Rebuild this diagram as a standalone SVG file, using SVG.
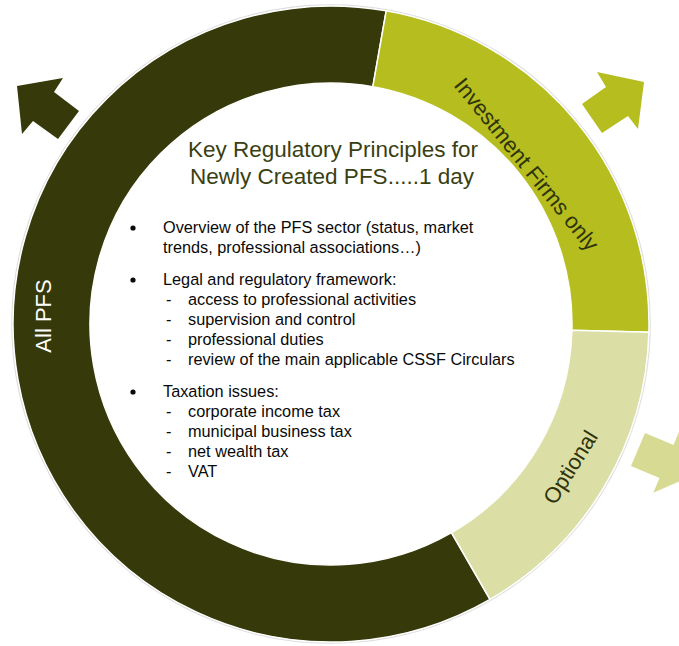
<svg xmlns="http://www.w3.org/2000/svg" width="679" height="646" viewBox="0 0 679 646">
  <style>
    .txt { font-family: "Liberation Sans", Arial, Helvetica, sans-serif; }
    .title { font-size: 22.5px; fill: #3a3f12; text-anchor: middle; }
    .body { font-size: 16.3px; fill: #0a0a0a; }
    .arc-label { font-size: 22px; text-anchor: middle; }
    .seg { stroke: #ffffff; stroke-width: 1.5; }
    .dark { fill: #363a0a; }
    .green { fill: #b5bd1f; }
    .light { fill: #dcdfa5; }
  </style>

  <rect width="679" height="646" fill="#ffffff"/>

  <!-- subtle outer shadow -->
  <circle cx="331" cy="324" r="319" fill="none" stroke="#cfcfcf" stroke-width="1.5" opacity="0.7"/>

  <g id="all-pfs">
    <path class="seg dark" d="M490,599.4 A318,318 0 1 1 386.2,10.8 L372.85,86.66 A241,241 0 1 0 451.5,532.7 Z"/>
    <text class="txt arc-label" fill="#ffffff" transform="translate(51,316) rotate(-90)" x="0" y="0">All PFS</text>
  </g>

  <g id="investment-firms-only">
    <path class="seg green" d="M386.2,10.8 A318,318 0 0 1 648.9,332.3 L571.9,330.3 A241,241 0 0 0 372.85,86.66 Z"/>
    <text class="txt arc-label" fill="#2f330b" transform="translate(527,164) rotate(51)" x="0" y="8">Investment Firms only</text>
  </g>

  <g id="optional">
    <path class="seg light" d="M648.9,332.3 A318,318 0 0 1 490,599.4 L451.5,532.7 A241,241 0 0 0 571.9,330.3 Z"/>
    <text class="txt arc-label" fill="#2f330b" transform="translate(570,467) rotate(-58)" x="0" y="8">Optional</text>
  </g>

  <g id="connectors">
    <polygon class="dark" points="17,86 63,78 54,92 79,111 58,139 33,121 22,134"/>
    <polygon class="green" points="597,72 644,82 638,129 628,116 602,133 582,104 606,87"/>
    <polygon fill="#d6da92" points="645,433 673.5,445 679.7,430 696,474 653.3,492.7 659.5,478 631,466"/>
  </g>

  <g id="center-content">
    <text class="txt title" x="333" y="157">Key Regulatory Principles for</text>
    <text class="txt title" x="332" y="184">Newly Created PFS.....1 day</text>

    <circle cx="133" cy="228" r="2.6" fill="#0a0a0a"/>
    <text class="txt body" x="163" y="233">Overview of the PFS sector (status, market</text>
    <text class="txt body" x="163" y="253">trends, professional associations…)</text>

    <circle cx="133" cy="280" r="2.6" fill="#0a0a0a"/>
    <text class="txt body" x="163" y="285">Legal and regulatory framework:</text>
    <text class="txt body" x="166" y="305">-</text>
    <text class="txt body" x="188" y="305">access to professional activities</text>
    <text class="txt body" x="166" y="325">-</text>
    <text class="txt body" x="188" y="325">supervision and control</text>
    <text class="txt body" x="166" y="345">-</text>
    <text class="txt body" x="188" y="345">professional duties</text>
    <text class="txt body" x="166" y="365">-</text>
    <text class="txt body" x="188" y="365">review of the main applicable CSSF Circulars</text>

    <circle cx="133" cy="392" r="2.6" fill="#0a0a0a"/>
    <text class="txt body" x="163" y="397">Taxation issues:</text>
    <text class="txt body" x="166" y="417">-</text>
    <text class="txt body" x="188" y="417">corporate income tax</text>
    <text class="txt body" x="166" y="437">-</text>
    <text class="txt body" x="188" y="437">municipal business tax</text>
    <text class="txt body" x="166" y="457">-</text>
    <text class="txt body" x="188" y="457">net wealth tax</text>
    <text class="txt body" x="166" y="477">-</text>
    <text class="txt body" x="188" y="477">VAT</text>
  </g>
</svg>
